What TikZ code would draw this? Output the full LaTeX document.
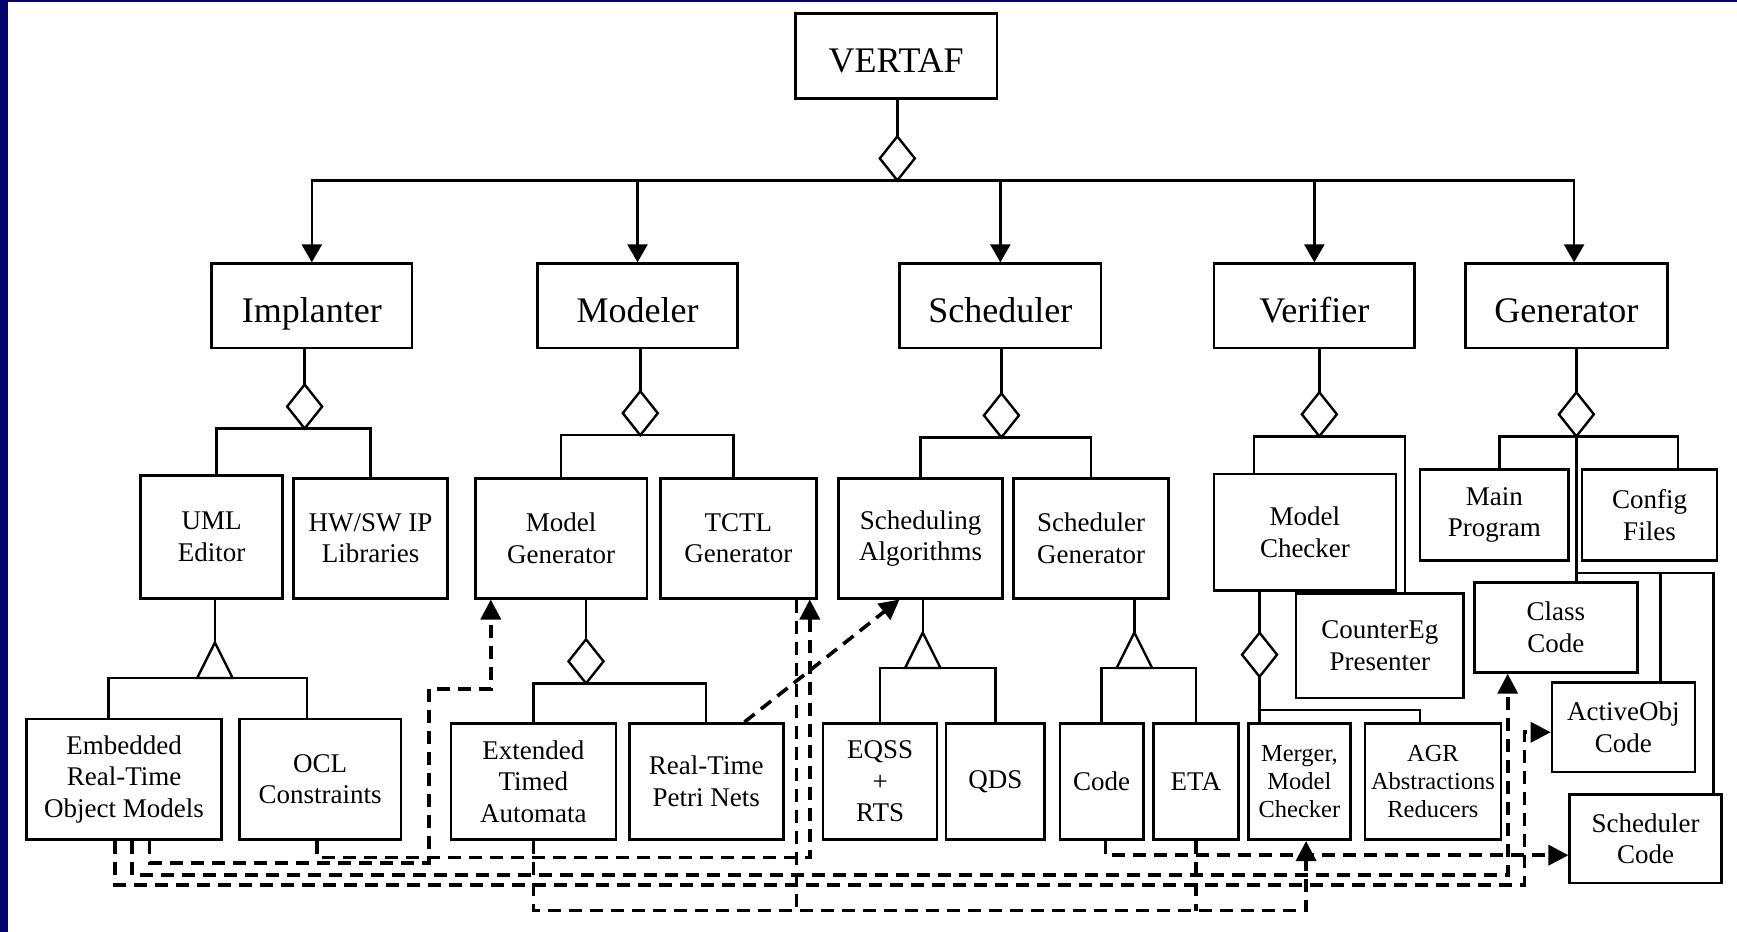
\documentclass[tikz,border=0pt]{standalone}
\usepackage{fontspec}
\setmainfont{Liberation Serif}
\usetikzlibrary{arrows.meta,shapes.geometric,calc}
\definecolor{navy}{RGB}{4,4,108}
% box from corner (x1,y1) to (x2,y2) in picture units
\newcommand\mybox[7]{\node[#1, minimum width={(#5-#3)*1.1078pt}, minimum height={(#6-#4)*1.1078pt}] (#2) at ({(#3+#5)/2},{(#4+#6)/2}) {#7};}
\begin{document}
\begin{tikzpicture}[x=1.1078pt,y=-1.1078pt,
 lbox/.style={draw, line width=2.6pt, inner sep=0pt, align=center, font=\fontsize{27}{31.6}\selectfont},
 bbox/.style={lbox, font=\fontsize{36}{40}\selectfont, text height=33pt, text depth=0pt},
 sbox/.style={lbox, font=\fontsize{24.5}{28.2}\selectfont},
 ln/.style={line width=2.4pt},
 arr/.style={ln, -{Triangle[length=18pt,width=20pt]}},
 dsh/.style={line width=3.6pt, dash pattern=on 13pt off 8pt},
 darr/.style={dsh, -{Triangle[length=20pt,width=20pt]}},
 dmd/.style={diamond, draw, fill=white, line width=2.4pt, minimum width=35pt, minimum height=44pt, inner sep=0pt, outer sep=0pt},
]
\useasboundingbox (0,0) rectangle (1568,841);
\fill[white] (0,0) rectangle (1568,841);
\fill[navy] (0,0) rectangle (7.5,841);
\fill[navy] (0,0) rectangle (1568,2.2);

% top
\mybox{bbox}{vertaf}{718}{12}{900}{89}{VERTAF}
% level 1
\mybox{bbox}{impl}{191}{238}{372}{314}{Implanter}
\mybox{bbox}{model}{485}{238}{666}{314}{Modeler}
\mybox{bbox}{sched}{812}{238}{994}{314}{Scheduler}
\mybox{bbox}{verif}{1096}{238}{1277}{314}{Verifier}
\mybox{bbox}{gen}{1323}{238}{1505}{314}{Generator}
% level 2
\mybox{lbox}{uml}{127}{429}{255}{540}{UML\\Editor}
\mybox{lbox}{hwsw}{265}{432}{404}{540}{HW/SW IP\\Libraries}
\mybox{lbox}{mgen}{429}{432}{584}{540}{Model\\Generator}
\mybox{lbox}{tctl}{596}{432}{737}{540}{TCTL\\Generator}
\mybox{lbox}{salg}{757}{432}{905}{540}{Scheduling\\Algorithms}
\mybox{lbox}{sgen}{915}{432}{1055}{540}{Scheduler\\Generator}
\mybox{lbox}{mchk}{1096}{428}{1260}{533}{Model\\Checker}
\mybox{lbox}{ceg}{1170}{536}{1321}{630}{CounterEg\\Presenter}
\mybox{lbox}{mainp}{1282}{424}{1416}{506}{Main\\Program}
\mybox{lbox}{conf}{1428}{424}{1550}{506}{Config\\Files}
\mybox{lbox}{ccode}{1331}{526}{1478}{607}{Class\\Code}
\mybox{lbox}{aobj}{1401}{616}{1530}{697}{ActiveObj\\Code}
\mybox{lbox}{scode}{1417}{717}{1554}{797}{Scheduler\\Code}
% level 3
\mybox{lbox}{ertom}{24}{649}{200}{758}{Embedded\\Real-Time\\Object Models}
\mybox{lbox}{ocl}{216}{649}{362}{758}{OCL\\Constraints}
\mybox{lbox}{xta}{407}{653}{556}{758}{Extended\\Timed\\Automata}
\mybox{lbox}{rtpn}{568}{653}{707}{758}{Real-Time\\Petri Nets}
\mybox{lbox}{eqss}{743}{653}{846}{758}{EQSS\\+\\RTS}
\mybox{lbox}{qds}{854}{653}{943}{758}{QDS}
\mybox{lbox}{code}{957}{653}{1032}{758}{Code}
\mybox{lbox}{eta}{1041}{653}{1118}{758}{ETA}
\mybox{sbox}{merger}{1127}{653}{1219}{758}{Merger,\\Model\\Checker}
\mybox{sbox}{agr}{1232}{653}{1355}{758}{AGR\\Abstractions\\Reducers}

% diamonds
\node[dmd] (d0) at (810,143) {};
\node[dmd] (d1) at (275,367) {};
\node[dmd] (d2) at (578,373) {};
\node[dmd] (d3) at (904,375) {};
\node[dmd] (d4) at (1191,374) {};
\node[dmd] (d5) at (1423,374) {};
\node[dmd] (d6) at (1137,591) {};
\node[dmd] (d7) at (529,597) {};

% VERTAF aggregation and bus
\draw[ln] (d0.north |- vertaf.south) -- (d0.north);
\draw[arr] (d0.south) -| (impl.north);
\draw[arr] (d0.south) -| (model.north);
\draw[arr] (d0.south) -| (sched.north);
\draw[arr] (d0.south) -| (verif.north);
\draw[arr] (d0.south) -| ([xshift=7.7pt]gen.north);

% level 1 to diamonds
\draw[ln] (d1.north |- impl.south) -- (d1.north);
\draw[ln] (d2.north |- model.south) -- (d2.north);
\draw[ln] (d3.north |- sched.south) -- (d3.north);
\draw[ln] (d4.north |- verif.south) -- (d4.north);
\draw[ln] (d5.north |- gen.south) -- (d5.north);

% brackets level 2
\draw[ln] ([xshift=5pt]uml.north) |- (d1.south) -| (hwsw.north);
\draw[ln] (mgen.north) |- (d2.south) -| ([xshift=-5pt]tctl.north);
\draw[ln] (salg.north) |- (d3.south) -| (sgen.north);
\draw[ln] ([xshift=-51pt]mchk.north) |- (d4.south) -| ([xshift=25pt]ceg.north);
\draw[ln] ([xshift=5pt]mainp.north) |- (d5.south) -| ([xshift=28.5pt]conf.north);
\draw[ln] (d5.south) -- (d5.south |- ccode.north);
\coordinate (gj) at (1423,517);
\draw[ln] (gj) -| ([xshift=37pt]aobj.north);
\draw[ln] (gj) -| ([xshift=68pt]scode.north);

% Model Checker aggregation
\draw[ln] (d6.north |- mchk.south) -- (d6.north);
\draw[ln] (d6.south) -- (d6.south |- merger.north);
\coordinate (vb) at (1137,641);
\draw[ln] (vb) -| ([xshift=-12.7pt]agr.north);

% Model Generator aggregation
\draw[ln] (d7.north |- mgen.south) -- (d7.north);
\draw[ln] (xta.north) |- (d7.south) -| (rtpn.north);

% UML generalisation
\coordinate (t1) at (194,612);
\coordinate (t1a) at (194,580);
\draw[ln] (t1a |- uml.south) -- (t1a);
\draw[ln] ([xshift=-15.5pt]ertom.north) |- (t1) -| ([xshift=-13.3pt]ocl.north);
\draw[ln, fill=white] (t1a) -- ++(16,32) -- ++(-32,0) -- cycle;

% Scheduling Algorithms generalisation
\coordinate (t2) at (833,603);
\coordinate (t2a) at (833,571);
\draw[ln] (t2a |- salg.south) -- (t2a);
\draw[ln] (eqss.north) |- (t2) -| (qds.north);
\draw[ln, fill=white] (t2a) -- ++(16,32) -- ++(-32,0) -- cycle;

% Scheduler Generator generalisation
\coordinate (t3) at (1024,603);
\coordinate (t3a) at (1024,571);
\draw[ln] (t3a |- sgen.south) -- (t3a);
\draw[ln] (code.north) |- (t3) -| (eta.north);
\draw[ln, fill=white] (t3a) -- ++(16,32) -- ++(-32,0) -- cycle;

% dashed flows
\coordinate (j1) at (387,779);
\coordinate (j2) at (387,622);
\draw[darr] ([xshift=25.5pt]ertom.south) |- (j1) -- (j2) -| ([xshift=-70.3pt]mgen.south);

\coordinate (c2) at (731,774);
\draw[darr] ([xshift=-3pt]ocl.south) |- (c2) -- (c2 |- tctl.south);

\coordinate (c3) at (1361,790);
\draw[darr] ([xshift=7.8pt]ertom.south) |- (c3) -- (c3 |- ccode.south);

\coordinate (c4) at (1376,799);
\draw[darr] ([xshift=-8.9pt]ertom.south) |- (c4) |- ([yshift=-5pt]aobj.west);

\coordinate (c5) at (1179,822);
\draw[darr] (xta.south) |- (c5) -- (c5 |- merger.south);
\coordinate (t6) at ([xshift=58.2pt]tctl.south);
\draw[dsh] (t6) -- (t6 |- c5);
\draw[dsh] (eta.south) -- (eta.south |- c5);

\draw[darr] ([xshift=3.9pt]code.south) |- ([yshift=-16.6pt]scode.west);

\draw[darr] ([xshift=38.2pt]rtpn.north) -- ([xshift=-21pt]salg.south);
\end{tikzpicture}
\end{document}
